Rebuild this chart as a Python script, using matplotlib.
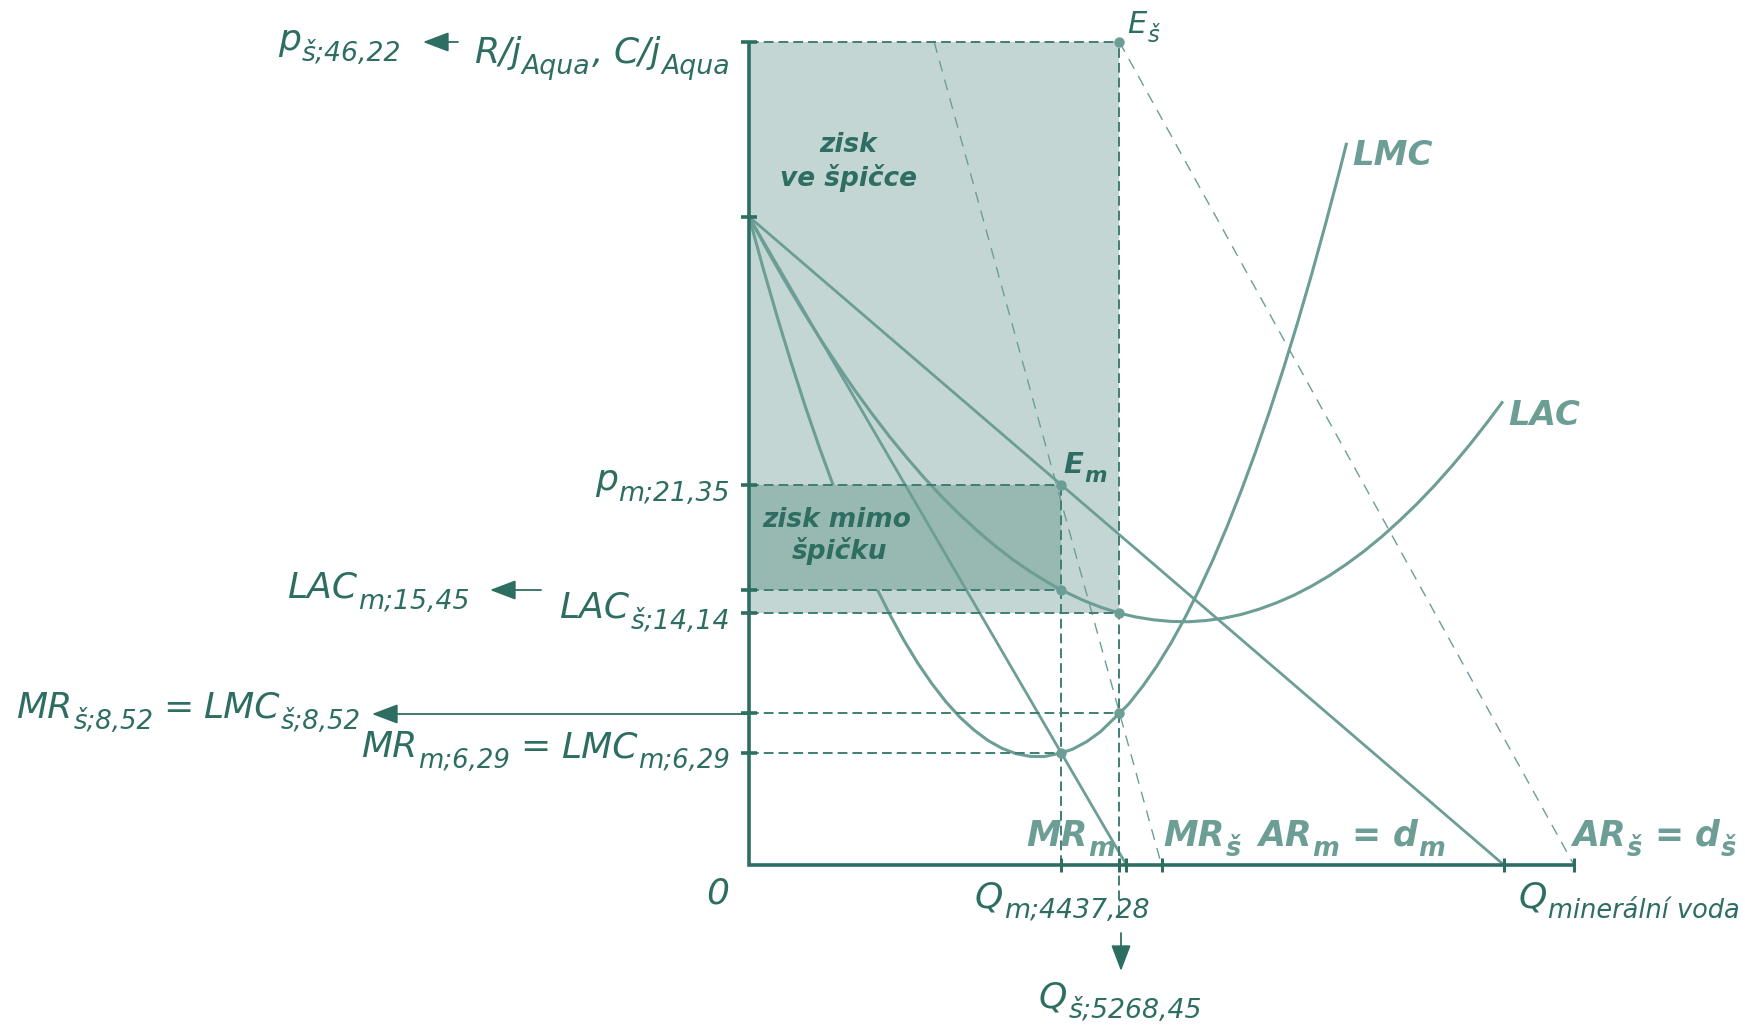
import matplotlib
matplotlib.use('Agg')
import matplotlib.pyplot as plt
from matplotlib.patches import Rectangle

# ---------------- data ----------------
P_PEAK = 46.22        # p_š
P_OFF = 21.35         # p_m
LAC_OFF = 15.45       # LAC_m
LAC_PEAK = 14.14      # LAC_š
MC_PEAK = 8.52        # MR_š = LMC_š
MC_OFF = 6.29         # MR_m = LMC_m
Q_OFF = 4437.28       # Q_m
Q_PEAK = 5268.45      # Q_š
P_INTERCEPT = 36.41   # common start of AR_m, MR_m, LAC, LMC

ARm_Q = [0, 10738]
ARm_P = [36.41, 0]
MRm_Q = [0, 5369]
MRm_P = [36.41, 0]
ARs_Q = [5268.45, 11734]
ARs_P = [46.22, 0]
MRs_Q = [2634, 5867]
MRs_P = [46.22, 0]

LMC_Q = [0, 200, 400, 600, 800, 1000, 1200, 1400, 1600, 1800, 2000, 2200, 2400, 2600,
         2800, 3000, 3200, 3400, 3600, 3800, 4000, 4200, 4437.28, 4600, 4800, 5000,
         5268.45, 5400, 5600, 5800, 6000, 6200, 6400, 6600, 6800, 7000, 7200, 7400,
         7600, 7800, 8000, 8200, 8400, 8500]
LMC_P = [36.41, 33.53, 30.80, 28.21, 25.76, 23.46, 21.30, 19.28, 17.40, 15.67, 14.09, 12.64,
         11.34, 10.19, 9.17, 8.30, 7.58, 6.99, 6.55, 6.25, 6.10, 6.09, 6.29, 6.50, 6.92, 7.49,
         8.52, 9.04, 10.04, 11.17, 12.45, 13.88, 15.45, 17.15, 19.01, 21.01, 23.15, 25.43,
         27.86, 30.43, 33.14, 36.00, 38.99, 40.56]

LAC_Q = [0, 250, 500, 750, 1000, 1250, 1500, 1750, 2000, 2250, 2500, 2750, 3000, 3250,
         3500, 3750, 4000, 4250, 4437.28, 4750, 5000, 5268.45, 5500, 5750, 6000, 6250,
         6500, 6750, 7000, 7250, 7500, 7750, 8000, 8250, 8500, 8750, 9000, 9250, 9500,
         9750, 10000, 10250, 10500, 10710]
LAC_P = [36.41, 34.60, 32.87, 31.22, 29.63, 28.13, 26.69, 25.34, 24.05, 22.85, 21.71, 20.65,
         19.67, 18.76, 17.92, 17.16, 16.48, 15.87, 15.45, 14.87, 14.48, 14.14, 13.93, 13.77,
         13.68, 13.66, 13.73, 13.86, 14.07, 14.36, 14.72, 15.15, 15.66, 16.24, 16.90, 17.63,
         18.44, 19.33, 20.28, 21.31, 22.42, 23.60, 24.86, 25.97]

Y_TICKS = [P_PEAK, P_INTERCEPT, P_OFF, LAC_OFF, LAC_PEAK, MC_PEAK, MC_OFF]
X_TICKS = [Q_OFF, Q_PEAK, MRm_Q[1], MRs_Q[1], ARm_Q[1], ARs_Q[1]]
Q_AXIS_END = 11734

# ---------------- style ----------------
DARK = '#2E6D62'
CURVE = '#6C9E96'
LIGHT_FILL = '#C3D6D3'
DARK_FILL = '#98B8B2'
GUIDE = '#3F7E74'

plt.rcParams['font.family'] = ['DejaVu Sans']

W, H = 1745, 1025
X0, SX = 749.0, 0.07031     # pixel of Q=0, px per unit Q
Y0, SY = 865.0, 17.806      # pixel of P=0, px per unit P
PT = 100 / 72

fig = plt.figure(figsize=(W / 100, H / 100), dpi=100)
ax = fig.add_axes([0, 0, 1, 1])
ax.set_xlim(-X0 / SX, (W - X0) / SX)
ax.set_ylim((Y0 - H) / SY, Y0 / SY)
ax.axis('off')
renderer = fig.canvas.get_renderer()


def fp(x, y):
    return (x / W, 1 - y / H)


# fills and LMC (LMC lies beneath the dark rectangle)
ax.add_patch(Rectangle((0, LAC_PEAK), Q_PEAK, P_PEAK - LAC_PEAK, fc=LIGHT_FILL, ec='none', zorder=1))
ax.plot(LMC_Q, LMC_P, color=CURVE, lw=2.2, zorder=2, solid_joinstyle='round', solid_capstyle='butt')
ax.add_patch(Rectangle((0, LAC_OFF), Q_OFF, P_OFF - LAC_OFF, fc=DARK_FILL, ec='none', zorder=3))

# curves
ax.plot(LAC_Q, LAC_P, color=CURVE, lw=2.2, zorder=4, solid_joinstyle='round')
ax.plot(ARm_Q, ARm_P, color=CURVE, lw=2.0, zorder=4)
ax.plot(MRm_Q, MRm_P, color=CURVE, lw=2.0, zorder=4)
ax.plot(ARs_Q, ARs_P, color=CURVE, lw=1.0, ls=(0, (8, 6)), zorder=4)
ax.plot(MRs_Q, MRs_P, color=CURVE, lw=1.0, ls=(0, (8, 6)), zorder=4)

# guide lines
dash = (0, (5, 2.6))
for yv, xe in [(P_PEAK, Q_PEAK), (P_OFF, Q_OFF), (LAC_OFF, Q_OFF), (LAC_PEAK, Q_PEAK),
               (MC_PEAK, Q_PEAK), (MC_OFF, Q_OFF)]:
    ax.plot([0, xe], [yv, yv], color=GUIDE, lw=1.4, ls=dash, zorder=5)
ax.plot([Q_OFF, Q_OFF], [0, P_OFF], color=GUIDE, lw=1.4, ls=dash, zorder=5)
ax.plot([Q_PEAK, Q_PEAK], [-2.8, P_PEAK], color=GUIDE, lw=1.4, ls=dash, zorder=5)

# axes
ax.plot([0, 0, Q_AXIS_END], [P_PEAK, 0, 0], color=DARK, lw=2.6, zorder=6,
        solid_joinstyle='miter', solid_capstyle='butt')
ax.plot([0] * len(Y_TICKS), Y_TICKS, ls='none', marker='_', ms=12, mew=2.6, color=DARK, zorder=6)
ax.plot(X_TICKS, [0] * len(X_TICKS), ls='none', marker='|', ms=10, mew=2.2, color=DARK, zorder=6)

# points
ax.plot([Q_PEAK, Q_OFF, Q_OFF, Q_PEAK, Q_PEAK, Q_OFF],
        [P_PEAK, P_OFF, LAC_OFF, LAC_PEAK, MC_PEAK, MC_OFF],
        ls='none', marker='o', ms=7.5, color=CURVE, mec='none', zorder=7)


# ---------------- texts ----------------
def rich(x, y, pieces, fs=26, ha='left', color=DARK, weight='normal',
         sub_ratio=0.74, drop=0.30):
    """pieces: str = normal text, ('_', str) = subscript, number = gap in px.
    (x, y) is the baseline anchor in pixels (top-left origin)."""
    items = []
    for p in pieces:
        if isinstance(p, (int, float)):
            items.append((None, p, 0))
            continue
        if isinstance(p, tuple):
            s, size, dy = p[1], fs * sub_ratio, fs * PT * drop
        else:
            s, size, dy = p, fs, 0
        tt = fig.text(0, 0, s, fontsize=size, style='italic', fontweight=weight,
                      color=color, ha='left', va='baseline', zorder=9)
        w = tt.get_window_extent(renderer).width
        items.append((tt, w + 1, dy))
    total = sum(w for _, w, _ in items)
    cx = x - total if ha == 'right' else (x - total / 2 if ha == 'center' else x)
    for tt, w, dy in items:
        if tt is not None:
            tt.set_position(fp(cx, y + dy))
        cx += w


rich(278, 50, ['p', ('_', 'š;46,22')])
rich(731, 63, ['R/j', ('_', 'Aqua'), ',', 9, 'C/j', ('_', 'Aqua')], ha='right')
rich(731, 490, ['p', ('_', 'm;21,35')], ha='right')
rich(287, 598, ['LAC', ('_', 'm;15,45')])
rich(731, 618, ['LAC', ('_', 'š;14,14')], ha='right')
rich(16, 718, ['MR', ('_', 'š;8,52'), 9, '=', 9, 'LMC', ('_', 'š;8,52')], sub_ratio=0.72)
rich(731, 757, ['MR', ('_', 'm;6,29'), 9, '=', 9, 'LMC', ('_', 'm;6,29')], ha='right',
     sub_ratio=0.72)
rich(718, 904, ['0'], ha='center')
rich(975, 907, ['Q', ('_', 'm;4437,28')])
rich(1039, 1007, ['Q', ('_', 'š;5268,45')])
rich(1519, 907, ['Q', ('_', 'minerální voda')], sub_ratio=0.71)
rich(1127, 33, ['E', ('_', 'š')], fs=22)
rich(1063, 473, ['E', ('_', 'm')], fs=21, weight='bold')

rich(1026, 846, ['MR', ('_', 'm')], fs=25, color=CURVE, weight='bold')
rich(1163, 846, ['MR', ('_', 'š')], fs=25, color=CURVE, weight='bold')
rich(1258, 846, ['AR', ('_', 'm'), 11, '=', 11, 'd', ('_', 'm')], fs=25, color=CURVE, weight='bold')
rich(1572, 846, ['AR', ('_', 'š'), 11, '=', 11, 'd', ('_', 'š')], fs=25, color=CURVE, weight='bold')
rich(1352, 165, ['LMC'], fs=24.5, color=CURVE, weight='bold')
rich(1508, 425, ['LAC'], fs=24.5, color=CURVE, weight='bold')

for (cx, cy, s) in [(848, 145, 'zisk'), (848, 178, 've špičce'),
                    (837, 520, 'zisk mimo'), (839, 551, 'špičku')]:
    fig.text(*fp(cx, cy), s, ha='center', va='center', color=DARK, fontsize=19,
             fontweight='bold', style='italic')


# arrows
def arrow(x1, y1, x2, y2):
    ax.annotate('', xy=fp(x2, y2), xytext=fp(x1, y1), xycoords='figure fraction',
                textcoords='figure fraction',
                arrowprops=dict(arrowstyle='-|>,head_length=1.0,head_width=0.38',
                                mutation_scale=16, color=DARK, lw=1.3,
                                shrinkA=0, shrinkB=0), zorder=8)


arrow(458, 42, 423, 42)
arrow(541, 590, 490, 590)
arrow(749, 714, 372, 714)
arrow(1121, 933, 1121, 971)

fig.savefig('out.png', dpi=100)
